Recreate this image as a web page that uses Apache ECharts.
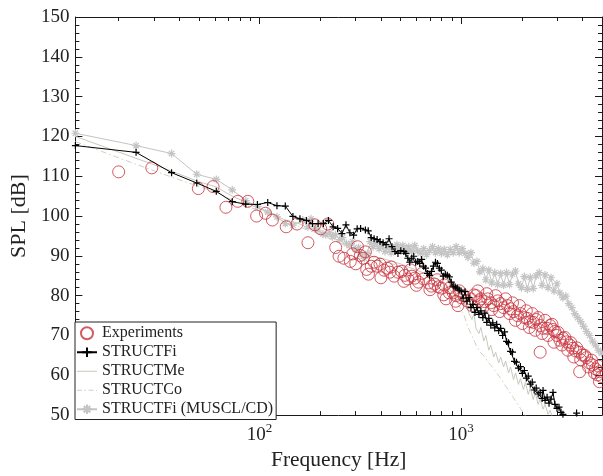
<!DOCTYPE html>
<html>
<head>
<meta charset="utf-8">
<script src="https://cdn.jsdelivr.net/npm/echarts@6/dist/echarts.min.js"></script>
<style>html,body{margin:0;padding:0;background:#fff}#c{width:603px;height:476px}</style>
</head>
<body>
<div id="c"></div>
<script>
// ---------- tick definitions ----------
const xMajorTicks = [100, 1000];
const xMinorTicks = [20,30,40,50,60,70,80,90,200,300,400,500,600,700,800,900,2000,3000,4000,5000];
const yMin = 50, yMax = 150, yStep = 10;

// ---------- Experiments ----------
const expFreq = [20,29.2,49.7,58.8,68.1,78,87.4,96.7,107,115.8,135.6,153.5,173.8,188,201,218,238.6,248,262,282,290,300,306,316,327,335,340,347,358,370,383,396,400,415,430,443,450,465,486,507,520,526,544,560,569,589,600,615,640,652,690,700,713,740,760,771,798,820,825,842,874,880,914,940,945,965,980,1000,1033,1070,1119,1132,1158,1185,1211,1225,1253,1282,1311,1341,1356,1403,1419,1451,1484,1518,1553,1571,1625,1662,1700,1739,1759,1799,1820,1861,1903,1947,1969,2014,2060,2107,2130,2179,2204,2254,2280,2330,2358,2412,2467,2467,2523,2550,2610,2670,2700,2762,2825,2857,2889,2920,2990,3023,3092,3162,3200,3270,3340,3384,3461,3500,3580,3621,3703,3745,3874,3874,3918,4000,4100,4190,4290,4337,4436,4485,4590,4642,4747,4800,4856,4856,4967];
const expSpl = [111.1,112.1,106.9,107.4,102.2,103.7,103.7,100.0,100.7,99.0,97.3,98.0,93.3,97.8,96.8,98.0,92.1,89.9,89.4,88.6,90.5,88.0,92.3,90.1,89.4,91.0,86.6,85.4,87.4,88.4,87.4,87.9,84.5,86.4,86.9,85.9,87.2,84.9,85.9,86.1,83.6,85.1,84.2,86.5,84.9,84.4,82.6,83.4,85.6,84.2,83.2,81.5,82.4,82.9,84.0,82.2,81.9,80.2,82.7,79.2,80.7,82.0,80.7,78.6,80.0,77.5,81.2,79.5,80.0,78.7,79.2,77.5,80.2,80.0,81.2,78.7,79.2,77.0,78.5,80.5,79.2,78.2,76.5,77.5,80.0,78.7,76.0,78.0,77.0,79.2,77.5,75.5,76.7,78.2,76.0,73.8,75.0,77.5,75.5,73.0,74.5,76.2,74.3,72.0,73.5,75.5,73.3,71.3,74.0,74.5,72.5,65.8,70.5,71.8,73.8,71.8,70.0,72.5,72.8,71.5,68.3,71.0,70.0,70.8,68.8,67.6,69.3,69.5,68.4,66.3,67.6,68.2,66.8,64.6,66.1,66.9,65.8,60.9,63.9,65.1,65.0,64.4,62.1,63.1,63.8,62.6,60.6,61.6,60.1,62.3,60.9,58.4,59.7];

// ---------- STRUCTFi ----------
const fiFreq = [12.2,24.4,36.6,48.8,61.0,73.2,85.4,97.6,109.8,122.0,134.2,146.4,158.6,170.8,183.0,195.2,207.4,219.6,231.8,244.0,256.2,268.4,280.6,292.8,305.0,317.2,335,346,358,370,383,396,410,424,439,454,470,486,502,520,532,544,556,569,582,595,609,623,637,651,666,681,697,713,729,746,763,780,798,816,835,854,874,894,914,935,956,978,1000,1023,1046,1070,1094,1119,1145,1171,1198,1225,1253,1282,1311,1341,1372,1403,1435,1468,1501,1536,1571,1607,1643,1681,1719,1759,1799,1840,1882,1925,1969,2014,2060,2107,2154,2204,2254,2305,2358,2412,2467,2523,2550,2610,2670,2730,2790,2857,2920,2990,3060,3130,3200,3270,3400,3600,3740,3860,4000];
const fiSpl = [117.7,116.0,110.9,108.3,106.2,103.6,103.0,102.9,103.4,102.6,102.5,99.9,99.3,98.9,98.1,98.1,98.1,98.9,97.3,96.9,95.6,97.8,95.8,95.2,96.8,96.9,96.5,96.3,94.6,94.3,94.1,93.6,93.3,92.8,94.3,92.3,91.1,90.6,91.3,91.1,90.6,89.4,88.4,89.4,89.9,88.4,88.6,88.1,89.1,87.4,86.9,85.6,85.1,86.1,87.4,88.4,88.1,86.9,86.4,84.9,85.4,85.1,84.7,83.4,82.4,82.2,81.9,81.4,81.2,79.4,81.0,78.6,79.5,77.0,77.8,75.8,77.0,75.3,76.2,74.5,75.6,73.3,74.3,72.6,73.2,71.9,72.8,71.2,71.8,70.0,70.9,68.5,68.2,66.0,65.8,63.5,63.3,61.8,62.2,60.5,61.2,59.3,59.8,57.8,58.3,56.3,56.8,55.3,55.7,54.2,56.2,53.7,54.5,53.0,54.0,55.7,52.7,51.7,52.0,50.7,50.2,49.0,47.5,48.5,50.5,47.0,45.0];

// ---------- STRUCTMe ----------
const meFreq = [12.2,24.4,36.6,48.8,61.0,73.2,85.4,97.6,109.8,122,134.2,146.4,158.6,170.8,183,195.2,207.4,219.6,231.8,244,256.2,268.4,280.6,292.8,305,323,405,507,637,755,842,914,978,1023,1058,1094,1132,1158,1185,1225,1253,1296,1326,1372,1403,1451,1484,1536,1571,1625,1662,1719,1759,1820,1861,1925,1969,2037,2083,2154,2204,2280,2330,2412,2467,2550,2610,2700,2762,2857,2955];
const meSpl = [120.0,114.5,111.3,108.8,107.3,105.0,103.5,102.0,101.0,99.9,99.0,98.6,98.0,97.2,96.8,96.2,95.5,95.0,94.6,94.0,93.6,92.8,92.5,91.6,91.2,90.3,89.4,87.9,85.9,84.2,82.4,80.7,79.2,77.5,78.5,75.5,74.0,75.5,71.8,70.5,72.0,68.6,70.0,66.3,67.6,64.6,65.8,63.1,64.6,62.1,63.6,60.6,62.1,58.9,60.6,57.7,59.2,56.4,58.2,55.2,56.9,53.9,55.7,52.7,54.2,51.5,52.7,50.2,51.2,49.0,47.8];

// ---------- STRUCTCo ----------
const coFreq = [12.2,24.4,36.6,48.8,61.0,73.2,85.4,97.6,109.8,122,134.2,146.4,158.6,170.8,183,195.2,207.4,219.6,231.8,244,256.2,268.4,280.6,292.8,305,400,500,600,700,798,894,978,1035,1082,1119,1158,1198,1253,1311,1372,1435,1501,1571,1643,1719,1799,1882,1969,2060,2154];
const coSpl = [118.7,113.0,109.8,107.6,106.0,104.0,102.6,101.5,100.4,99.5,98.5,97.9,97.2,96.6,96.0,95.6,95.0,94.4,94.1,93.5,93.0,92.4,92.0,91.2,90.8,88.8,87.4,85.9,84.4,82.4,79.9,77.5,75.0,72.0,70.5,68.8,67.1,65.6,64.6,63.1,61.9,60.6,59.2,57.7,56.2,54.7,53.2,51.7,50.2,48.8];

// ---------- STRUCTFi (MUSCL/CD) ----------
const muFreq = [12.2,24.4,36.6,48.8,61.0,73.2,85.4,97.6,109.8,122.0,134.2,146.4,164,174,180,188,195,206,213,223,230,238,250,258,270,279,289,299,310,320,331,343,354,366,379,392,405,419,434,449,465,480,497,514,532,550,569,589,609,630,652,674,697,721,746,771,798,825,854,883,914,945,978,1011,1046,1082,1119,1158,1198,1239,1282,1326,1372,1419,1468,1518,1571,1625,1681,1739,1799,1861,1925,1991,2060,2130,2204,2280,2358,2439,2523,2610,2700,2793,2889,2989,3092,3198,3308,3422,3540,3662,3788,3918,4053,4193,4337,4486,4642,4801,4967];
const muSpl = [120.8,117.7,115.7,110.5,109.2,106.6,103.9,102.4,101.0,99.8,98.1,97.7,99.0,97.3,99.3,96.8,96.5,95.5,95.3,95.8,94.8,95.3,94.1,94.6,93.1,92.6,93.6,91.6,92.1,90.3,89.4,90.6,93.6,92.3,93.1,91.8,92.6,91.1,92.1,90.8,91.8,92.8,91.6,92.6,91.3,92.3,91.1,92.6,91.3,90.6,91.8,90.3,91.3,92.3,90.8,91.8,90.6,91.6,90.3,91.6,90.8,92.3,90.8,91.8,90.6,89.6,90.8,88.2,88.6,86.0,86.8,84.0,86.4,83.2,85.8,82.8,85.6,82.6,85.8,82.8,85.4,86.2,83.0,82.0,84.8,81.6,84.6,81.8,85.0,85.8,82.6,85.2,82.0,84.5,81.2,83.0,80.7,79.5,79.9,78.0,77.0,75.5,74.5,73.5,72.3,71.0,70.0,68.6,67.6,66.3,65.6];

const pairs = (f, s) => f.map((v, i) => [v, s[i]]);

const FONT = 'Liberation Serif';
const TXT = '#222';
const AX = '#1a1a1a';
const RED = '#c8323c';
const ME_C = '#c9c7bd';
const CO_C = '#cfcfc8';
const PLUS = 'path://M5,0L5,10M0,5L10,5';
const STAR = 'path://M5,0L5,10M0,5L10,5M1.6,1.6L8.4,8.4M8.4,1.6L1.6,8.4';
const LINE_ICON = 'path://M0,4.5h20v1h-20z';
const DASHDOT_ICON = 'path://M0,4.5h5v1h-5zM7.5,4.5h1.5v1h-1.5zM11.5,4.5h5v1h-5zM19,4.5h1v1h-1z';

function xAx(pos, ticks, len, showLine, showLabel, extra) {
  return Object.assign({
    type: 'log', logBase: 10, min: 12.2, max: 5000, position: pos,
    axisLine: { show: showLine, onZero: false, lineStyle: { color: AX, width: 1 } },
    axisTick: { show: true, inside: true, length: len, customValues: ticks, lineStyle: { color: AX, width: 1 } },
    axisLabel: { show: showLabel },
    splitLine: { show: false }, minorTick: { show: false }, minorSplitLine: { show: false }
  }, extra || {});
}

const chart = echarts.init(document.getElementById('c'), null, { renderer: 'canvas' });
chart.setOption({
  animation: false,
  backgroundColor: '#fff',
  grid: { left: 69, right: 1, top: 17, bottom: 55, containLabel: false },
  xAxis: [
    xAx('bottom', xMajorTicks, 7, true, true, {
      name: 'Frequency [Hz]', nameLocation: 'middle', nameGap: 31,
      nameTextStyle: { fontFamily: FONT, fontSize: 21.5, color: TXT },
      axisLabel: {
        show: true, customValues: xMajorTicks, margin: 7,
        formatter: v => '{b|10}{s|' + Math.round(Math.log10(v)) + '}',
        rich: {
          b: { fontFamily: FONT, fontSize: 19, color: TXT, lineHeight: 22, verticalAlign: 'bottom' },
          s: { fontFamily: FONT, fontSize: 13, color: TXT, lineHeight: 22, verticalAlign: 'top' }
        }
      }
    }),
    xAx('bottom', xMinorTicks, 4, false, false),
    xAx('top', xMajorTicks, 7, true, false),
    xAx('top', xMinorTicks, 4, false, false)
  ],
  yAxis: [
    {
      type: 'value', min: yMin, max: yMax, interval: yStep, position: 'left',
      name: 'SPL [dB]', nameLocation: 'middle', nameGap: 41, nameRotate: 90,
      nameTextStyle: { fontFamily: FONT, fontSize: 22, color: TXT },
      axisLine: { show: true, lineStyle: { color: AX, width: 1 } },
      axisTick: { show: true, inside: true, length: 7, lineStyle: { color: AX } },
      minorTick: { show: true, splitNumber: 5, length: 4, lineStyle: { color: AX } },
      axisLabel: { fontFamily: FONT, fontSize: 19, color: TXT, margin: 6 },
      splitLine: { show: false }
    },
    {
      type: 'value', min: yMin, max: yMax, interval: yStep, position: 'right',
      axisLine: { show: true, lineStyle: { color: AX, width: 1 } },
      axisTick: { show: true, inside: true, length: 7, lineStyle: { color: AX } },
      minorTick: { show: true, splitNumber: 5, length: 4, lineStyle: { color: AX } },
      axisLabel: { show: false },
      splitLine: { show: false }
    }
  ],
  legend: {
    orient: 'vertical', left: 75, top: 322,
    data: [
      { name: 'Experiments' },
      { name: 'STRUCTFi' },
      { name: 'STRUCTMe', icon: LINE_ICON },
      { name: 'STRUCTCo', icon: DASHDOT_ICON },
      { name: 'STRUCTFi (MUSCL/CD)' }
    ],
    backgroundColor: '#fff', borderColor: '#222', borderWidth: 1,
    padding: [2, 3, 1, 1], itemWidth: 20, itemHeight: 12, itemGap: 0.5,
    textStyle: { fontFamily: FONT, fontSize: 16, color: TXT, lineHeight: 18.5 },
    selectedMode: false
  },
  series: [
    {
      name: 'STRUCTFi (MUSCL/CD)', type: 'line', z: 1, data: pairs(muFreq, muSpl),
      symbol: STAR, symbolSize: 8, showSymbol: true,
      lineStyle: { color: '#c4c4c4', width: 1 },
      itemStyle: { color: '#c4c4c4', borderColor: '#c4c4c4', borderWidth: 1.2 }
    },
    {
      name: 'STRUCTMe', type: 'line', z: 2, data: pairs(meFreq, meSpl),
      symbol: 'none',
      lineStyle: { color: ME_C, width: 1 },
      itemStyle: { color: ME_C }
    },
    {
      name: 'STRUCTCo', type: 'line', z: 3, data: pairs(coFreq, coSpl),
      symbol: 'none',
      lineStyle: { color: CO_C, width: 1, type: [6, 3, 1.5, 3] },
      itemStyle: { color: CO_C }
    },
    {
      name: 'Experiments', type: 'scatter', z: 4, data: pairs(expFreq, expSpl),
      symbol: 'circle', symbolSize: 12,
      itemStyle: { color: 'rgba(0,0,0,0)', borderColor: RED, borderWidth: 1 }
    },
    {
      name: 'STRUCTFi', type: 'line', z: 5, data: pairs(fiFreq, fiSpl),
      symbol: PLUS, symbolSize: 7, showSymbol: true,
      lineStyle: { color: '#000', width: 1 },
      itemStyle: { color: '#000', borderColor: '#000', borderWidth: 1.2 }
    }
  ]
});
</script>
</body>
</html>
